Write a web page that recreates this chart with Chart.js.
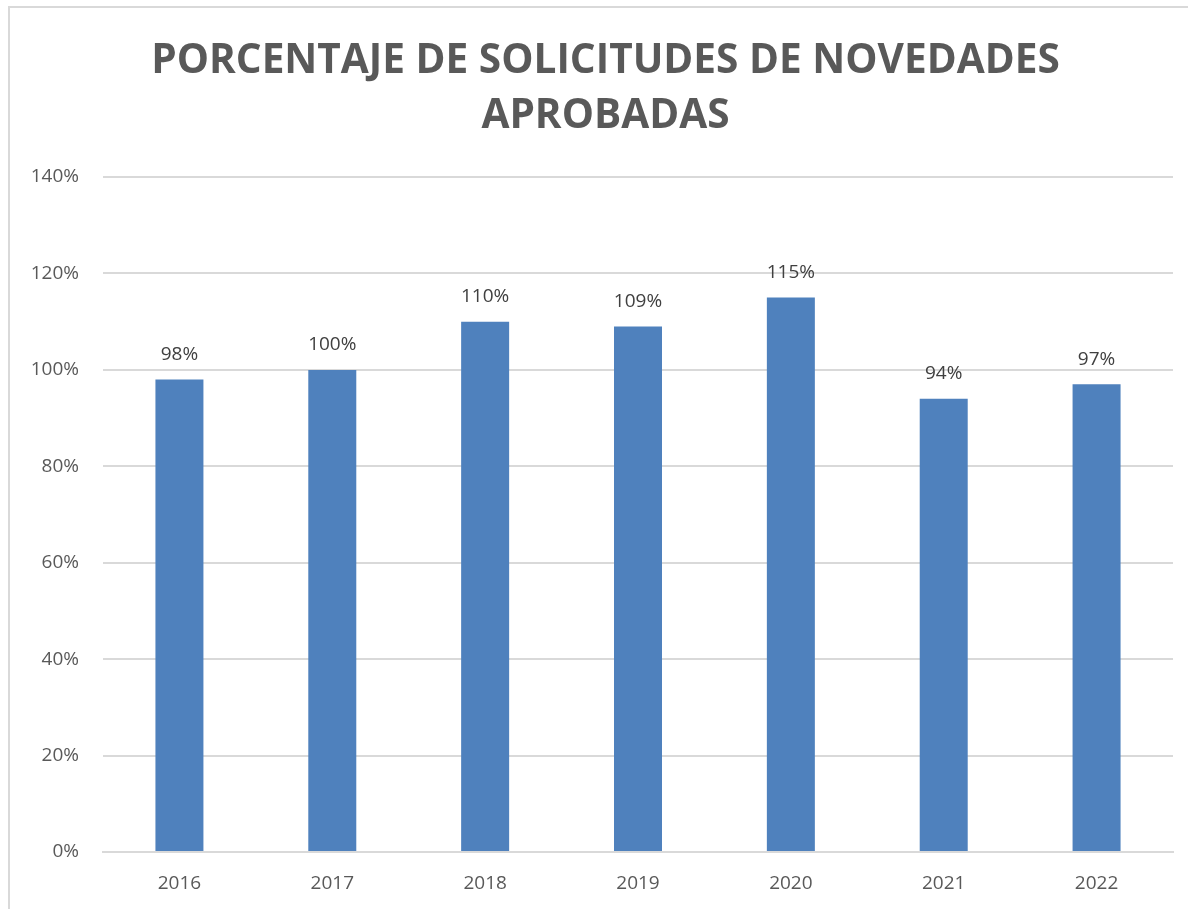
<!DOCTYPE html>
<html>
<head>
<meta charset="utf-8">
<script src="https://cdn.jsdelivr.net/npm/chart.js@4/dist/chart.umd.min.js"></script>
<style>
  html, body { margin: 0; padding: 0; background: #ffffff; }
  #wrap { position: relative; width: 1188px; height: 909px; overflow: hidden; }
  #frame { position: absolute; left: 8px; top: 6px; width: 1300px; height: 1000px;
           border-left: 2px solid #d9d9d9; border-top: 2px solid #d9d9d9; }
  #c { position: absolute; left: 0; top: 0; }
</style>
</head>
<body>
<div id="wrap">
  <div id="frame"></div>
  <canvas id="c" width="1188" height="909"></canvas>
</div>
<script>
const titleLines = ['PORCENTAJE DE SOLICITUDES DE NOVEDADES', 'APROBADAS'];
const years = ['2016', '2017', '2018', '2019', '2020', '2021', '2022'];
const approvedPct = [98, 100, 110, 109, 115, 94, 97];
const yTicks = [0, 20, 40, 60, 80, 100, 120, 140];

const FONT = "'Open Sans', 'DejaVu Sans', sans-serif";

const valueLabels = {
  id: 'valueLabels',
  afterDatasetsDraw(chart) {
    const ctx = chart.ctx;
    const meta = chart.getDatasetMeta(0);
    ctx.save();
    ctx.font = '19px ' + FONT;
    ctx.fillStyle = '#404040';
    ctx.textAlign = 'center';
    ctx.textBaseline = 'middle';
    meta.data.forEach((bar, i) => {
      ctx.fillText(approvedPct[i] + '%', bar.x, bar.y - 25);
    });
    ctx.restore();
  }
};

// shift the title's horizontal span so it is centred like the original
const titleShift = {
  id: 'titleShift',
  afterLayout(chart) {
    if (chart.titleBlock) {
      chart.titleBlock.left = 38;
    }
  }
};

new Chart(document.getElementById('c'), {
  type: 'bar',
  data: {
    labels: years,
    datasets: [{
      data: approvedPct,
      backgroundColor: '#4f81bd',
      borderWidth: 0,
      categoryPercentage: 1,
      barPercentage: 0.314
    }]
  },
  options: {
    responsive: false,
    animation: false,
    layout: { padding: { left: 0, right: 15, top: 0, bottom: 0 } },
    plugins: {
      legend: { display: false },
      tooltip: { enabled: false },
      title: {
        display: true,
        text: titleLines,
        color: '#595959',
        font: { family: FONT, size: 40.6, weight: 'bold', lineHeight: 1.355 },
        padding: { top: 34, bottom: 33 }
      }
    },
    scales: {
      x: {
        grid: { display: false, drawTicks: false },
        border: { display: true, color: '#d9d9d9', width: 2 },
        ticks: { color: '#595959', font: { family: FONT, size: 19 }, padding: 20 },
        afterFit(scale) { scale.height = 57; }
      },
      y: {
        min: 0,
        max: 140,
        afterBuildTicks(scale) { scale.ticks = yTicks.map(v => ({ value: v })); },
        grid: { color: '#d9d9d9', lineWidth: 2, drawTicks: false },
        border: { display: false },
        ticks: {
          color: '#595959',
          font: { family: FONT, size: 19 },
          padding: 24,
          callback: v => v + '%'
        },
        afterFit(scale) { scale.width = 103; }
      }
    }
  },
  plugins: [valueLabels, titleShift]
});
</script>
</body>
</html>
